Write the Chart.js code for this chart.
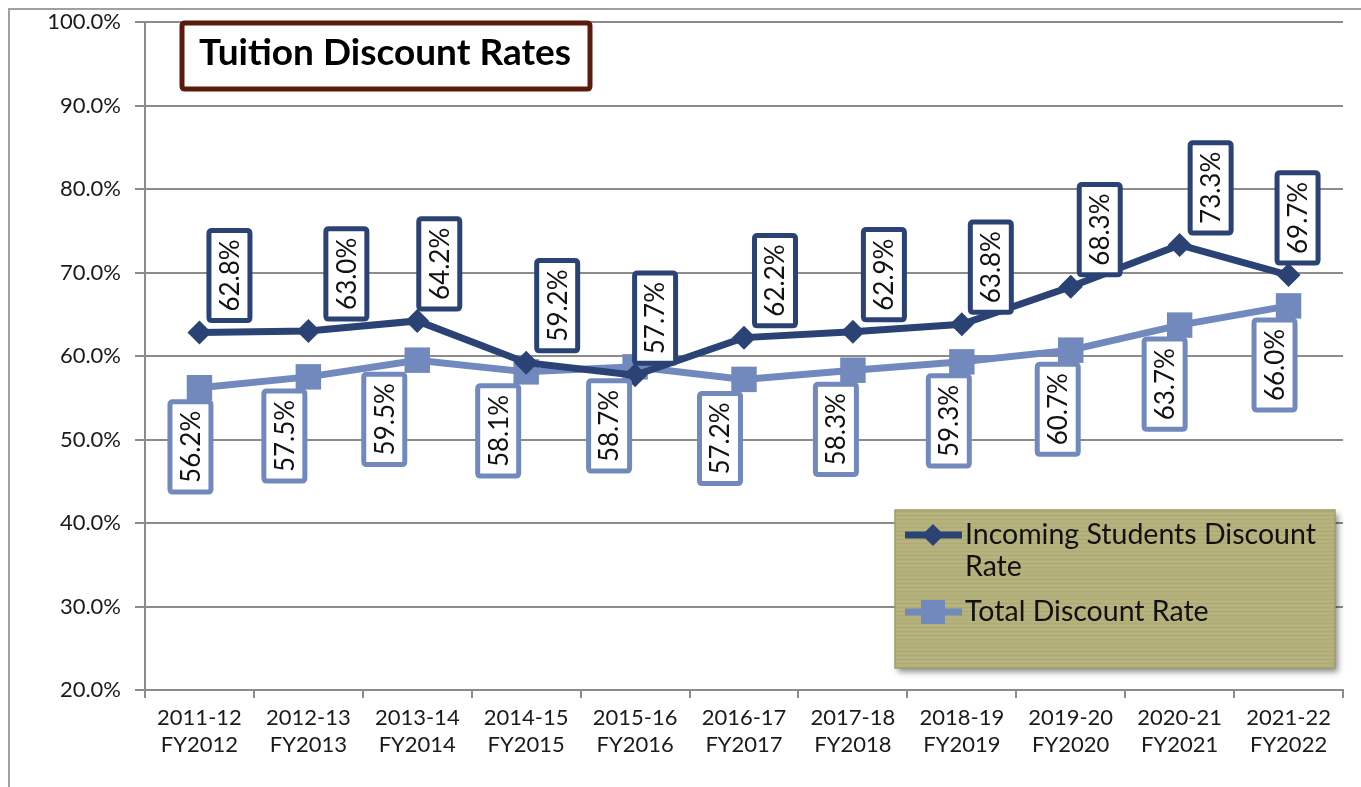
<!DOCTYPE html>
<html>
<head>
<meta charset="utf-8">
<title>Tuition Discount Rates</title>
<script src="https://cdn.jsdelivr.net/npm/chart.js@4.4.1/dist/chart.umd.min.js"></script>
<style>
    html, body { margin: 0; padding: 0; background: #ffffff; }
    #wrap { width: 1361px; height: 787px; }
</style>
</head>
<body>
<div id="wrap">
    <canvas id="discountChart" width="1361" height="787"></canvas>
</div>
<script>

/* =========================
   DATA
========================= */

const yearLabels = [
    ["2011-12", "FY2012"], ["2012-13", "FY2013"], ["2013-14", "FY2014"],
    ["2014-15", "FY2015"], ["2015-16", "FY2016"], ["2016-17", "FY2017"],
    ["2017-18", "FY2018"], ["2018-19", "FY2019"], ["2019-20", "FY2020"],
    ["2020-21", "FY2021"], ["2021-22", "FY2022"]
];

const incomingRates = [62.8, 63.0, 64.2, 59.2, 57.7, 62.2, 62.9, 63.8, 68.3, 73.3, 69.7];
const totalRates    = [56.2, 57.5, 59.5, 58.1, 58.7, 57.2, 58.3, 59.3, 60.7, 63.7, 66.0];

const seriesNames = ["Incoming Students Discount Rate", "Total Discount Rate"];

const yMin = 20;
const yMax = 100;
const yStep = 10;

/* =========================
   STYLE
========================= */

const NAVY = "#2b4374";
const LIGHT = "#7189bd";
const GRID = "#8c8c8c";
const FONT = "Lato, 'DejaVu Sans', sans-serif";

// small sideways nudges of the value boxes, as placed in the original
const incomingNudge = [30, 38, 22, 31, 20, 31, 31, 29, 29, 31, 9];
const totalNudge = [-9, -24, -33, -28, -26, -24, -17, -13, -13, -15, -14];

/* =========================
   PLUGINS
========================= */

const framePlugin = {
    id: "frame",
    beforeDraw(chart) {
        const ctx = chart.ctx;
        ctx.save();
        ctx.strokeStyle = "#a0a0a0";
        ctx.lineWidth = 2;
        ctx.beginPath();
        ctx.moveTo(9, chart.height);
        ctx.lineTo(9, 9);
        ctx.lineTo(chart.width, 9);
        ctx.stroke();
        ctx.restore();
    }
};

function roundBox(ctx, x, y, w, h, r) {
    ctx.beginPath();
    ctx.moveTo(x + r, y);
    ctx.lineTo(x + w - r, y);
    ctx.quadraticCurveTo(x + w, y, x + w, y + r);
    ctx.lineTo(x + w, y + h - r);
    ctx.quadraticCurveTo(x + w, y + h, x + w - r, y + h);
    ctx.lineTo(x + r, y + h);
    ctx.quadraticCurveTo(x, y + h, x, y + h - r);
    ctx.lineTo(x, y + r);
    ctx.quadraticCurveTo(x, y, x + r, y);
    ctx.closePath();
}

const valueBoxPlugin = {
    id: "valueBoxes",
    afterDatasetsDraw(chart) {
        const ctx = chart.ctx;
        ctx.save();
        ctx.font = "26px " + FONT;

        chart.data.datasets.forEach((ds, di) => {
            const meta = chart.getDatasetMeta(di);
            const above = di === 0;
            const nudge = above ? incomingNudge : totalNudge;

            meta.data.forEach((pt, i) => {
                const text = ds.data[i].toFixed(1) + "%";
                const tw = ctx.measureText(text).width;
                const w = 41;
                const h = tw + 18;
                const cx = pt.x + nudge[i];
                const top = above ? pt.y - 12 - h : pt.y + 14;

                roundBox(ctx, cx - w / 2, top, w, h, 3);
                ctx.fillStyle = "#ffffff";
                ctx.fill();
                ctx.lineWidth = 5;
                ctx.strokeStyle = ds.borderColor;
                ctx.stroke();

                ctx.save();
                ctx.translate(cx, top + h / 2);
                ctx.rotate(-Math.PI / 2);
                ctx.fillStyle = "#111111";
                ctx.textAlign = "center";
                ctx.textBaseline = "middle";
                ctx.fillText(text, 0, 1);
                ctx.restore();
            });
        });
        ctx.restore();
    }
};

const titleLegendPlugin = {
    id: "titleLegend",
    afterDraw(chart) {
        const ctx = chart.ctx;
        ctx.save();

        // title box
        roundBox(ctx, 182, 23, 408, 66, 3);
        ctx.fillStyle = "#ffffff";
        ctx.fill();
        ctx.lineWidth = 5;
        ctx.strokeStyle = "#5a1a0c";
        ctx.stroke();
        ctx.fillStyle = "#000000";
        ctx.font = "bold 37px " + FONT;
        ctx.textAlign = "center";
        ctx.textBaseline = "middle";
        ctx.fillText("Tuition Discount Rates", 385, 53, 388);

        // legend box, olive paper look
        const lx = 895, ly = 510, lw = 440, lh = 158;
        ctx.save();
        ctx.shadowColor = "rgba(0,0,0,0.45)";
        ctx.shadowBlur = 6;
        ctx.shadowOffsetX = 3;
        ctx.shadowOffsetY = 4;
        ctx.fillStyle = "#b3b07b";
        ctx.fillRect(lx, ly, lw, lh);
        ctx.restore();
        for (let yy = ly + 1; yy < ly + lh; yy += 2) {
            const a = 0.04 + 0.04 * Math.abs(Math.sin(yy * 1.7));
            ctx.fillStyle = (yy % 4 === 1) ? "rgba(255,255,225," + a + ")" : "rgba(100,100,50," + a + ")";
            ctx.fillRect(lx, yy, lw, 1);
        }
        ctx.strokeStyle = "#a09e68";
        ctx.lineWidth = 1.5;
        ctx.strokeRect(lx, ly, lw, lh);

        const rows = [
            { ds: 0, y: 535, lines: ["Incoming Students Discount", "Rate"] },
            { ds: 1, y: 612, lines: ["Total Discount Rate"] }
        ];
        ctx.font = "28.5px " + FONT;
        ctx.textAlign = "left";
        ctx.textBaseline = "middle";
        rows.forEach(r => {
            const ds = chart.data.datasets[r.ds];
            ctx.strokeStyle = ds.borderColor;
            ctx.lineWidth = 7;
            ctx.beginPath();
            ctx.moveTo(905, r.y);
            ctx.lineTo(962, r.y);
            ctx.stroke();
            ctx.fillStyle = ds.borderColor;
            if (r.ds === 0) {
                ctx.beginPath();
                ctx.moveTo(933, r.y - 11);
                ctx.lineTo(944, r.y);
                ctx.lineTo(933, r.y + 11);
                ctx.lineTo(922, r.y);
                ctx.closePath();
                ctx.fill();
            } else {
                ctx.fillRect(921, r.y - 12, 24, 24);
            }
            ctx.fillStyle = "#111111";
            r.lines.forEach((t, k) => ctx.fillText(t, 965, r.y + k * 32));
        });

        ctx.restore();
    }
};

/* =========================
   CHART
========================= */

new Chart(document.getElementById("discountChart"), {

    type: "line",

    data: {
        labels: yearLabels,
        datasets: [
            {
                label: seriesNames[0],
                data: incomingRates,
                borderColor: NAVY,
                backgroundColor: NAVY,
                borderWidth: 7,
                pointStyle: "rectRot",
                pointRadius: 12,
                pointBorderWidth: 0,
                tension: 0
            },
            {
                label: seriesNames[1],
                data: totalRates,
                borderColor: LIGHT,
                backgroundColor: LIGHT,
                borderWidth: 7,
                pointStyle: "rect",
                pointRadius: 18,
                pointBorderWidth: 0,
                tension: 0
            }
        ]
    },

    options: {
        responsive: false,
        animation: false,
        layout: {
            padding: { top: 22, right: 3, left: 0, bottom: 0 }
        },
        plugins: {
            legend: { display: false },
            tooltip: { enabled: false }
        },
        scales: {
            x: {
                offset: true,
                grid: {
                    offset: true,
                    drawOnChartArea: false,
                    tickLength: 8,
                    color: GRID,
                    lineWidth: 2
                },
                border: { color: GRID, width: 2 },
                ticks: {
                    color: "#1a1a1a",
                    font: { family: FONT, size: 22, lineHeight: 1.25 },
                    padding: 6,
                    maxRotation: 0,
                    autoSkip: false
                },
                afterFit(scale) {
                    scale.height = 97;
                    scale.paddingLeft = 0;
                    scale.paddingRight = 0;
                }
            },
            y: {
                min: yMin,
                max: yMax,
                grid: {
                    color: GRID,
                    lineWidth: 2,
                    tickLength: 10
                },
                border: { color: GRID, width: 2 },
                ticks: {
                    stepSize: yStep,
                    color: "#1a1a1a",
                    font: { family: FONT, size: 22 },
                    padding: 14,
                    callback: v => v.toFixed(1) + "%"
                },
                afterFit(scale) {
                    scale.width = 145;
                    scale.paddingTop = 0;
                    scale.paddingBottom = 0;
                }
            }
        }
    },

    plugins: [framePlugin, valueBoxPlugin, titleLegendPlugin]
});
</script>
</body>
</html>
